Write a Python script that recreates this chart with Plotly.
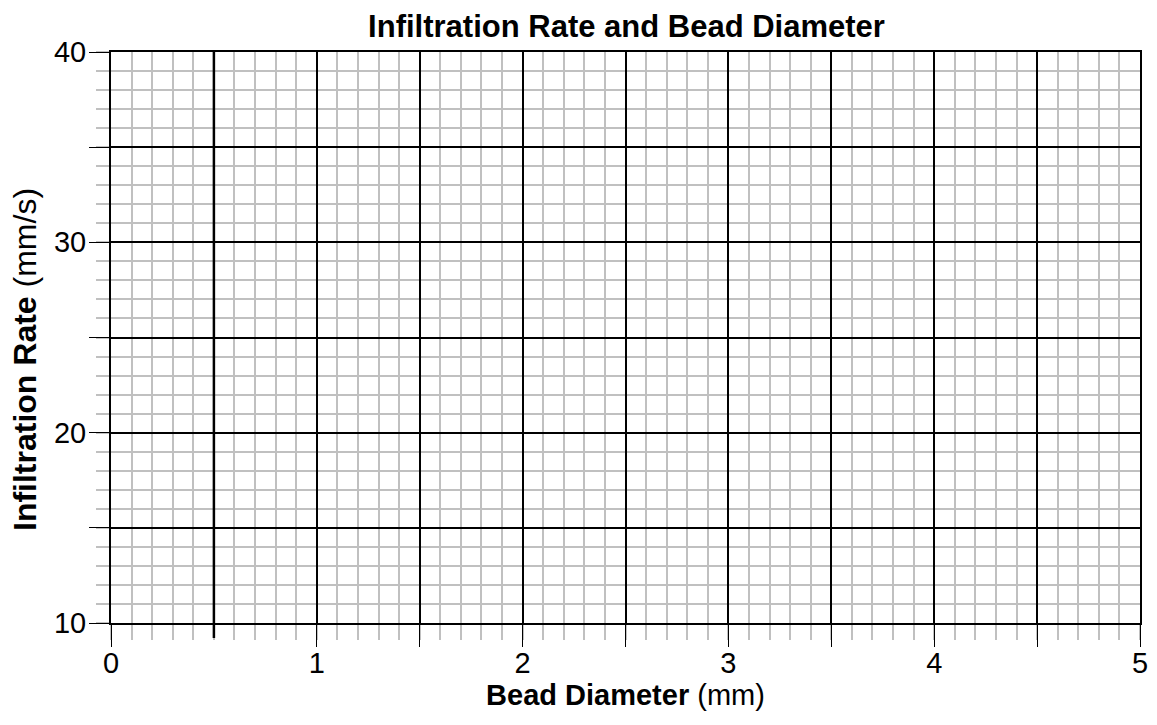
import plotly.graph_objects as go

# Axis ranges and tick definitions (empty graph paper chart)
x_range = [0, 5]
y_range = [10, 40]
x_major_ticks = [0, 1, 1.5, 2, 2.5, 3, 3.5, 4, 4.5, 5]
x_tick_labels = ["0", "1", "", "2", "", "3", "", "4", "", "5"]
x_half_gridline = 0.5
y_major_ticks = [10, 15, 20, 25, 30, 35, 40]
y_tick_labels = ["10", "", "20", "", "30", "", "40"]
x_minor_step = 0.1
y_minor_step = 1

title_text = "<b>Infiltration Rate and Bead Diameter</b>"
x_title = "<b>Bead Diameter</b> (mm)"
y_title = "<b>Infiltration Rate</b> (mm/s)"

FONT = "Liberation Sans, Arial, sans-serif"
GRAY = "#c0c0c0"

W, H = 1141, 709
L, R, T, B = 103, 9, 44, 94
plot_w = W - L - R
plot_h = H - T - B

fig = go.Figure()
fig.add_trace(go.Scatter(x=[], y=[], mode="markers", showlegend=False))

common = dict(
    ticks="outside", tickwidth=1, tickcolor="black",
    showgrid=True, gridcolor="black", gridwidth=2,
    showline=True, linecolor="black", linewidth=2, mirror=True,
    zeroline=False, automargin=False,
    tickfont=dict(family=FONT, size=29, color="black"),
)

fig.update_xaxes(
    range=x_range, tickmode="array", tickvals=x_major_ticks, ticktext=x_tick_labels,
    ticklen=22, ticklabelstandoff=-9,
    minor=dict(dtick=x_minor_step, tick0=0, ticks="outside", ticklen=15, tickwidth=2,
               tickcolor=GRAY, showgrid=True, gridcolor=GRAY, gridwidth=2),
    title=dict(text=x_title, font=dict(family=FONT, size=29, color="black"), standoff=0),
    **common,
)
fig.update_yaxes(
    range=y_range, tickmode="array", tickvals=y_major_ticks, ticktext=y_tick_labels,
    ticklen=20, ticklabelstandoff=-3,
    minor=dict(dtick=y_minor_step, tick0=10, ticks="outside", ticklen=13, tickwidth=2,
               tickcolor=GRAY, showgrid=True, gridcolor=GRAY, gridwidth=2),
    **common,
)

# y-axis title placed as a rotated annotation
fig.add_annotation(text=y_title, xref="paper", yref="paper",
                   x=(17 - L) / plot_w, y=(T + plot_h - 352) / plot_h,
                   xanchor="center", yanchor="middle", textangle=-90, showarrow=False,
                   font=dict(family=FONT, size=32, color="black"))

# the 0.5 gridline extends a short thick stub below the axis
fig.add_shape(type="line", xref="x", yref="paper",
              x0=x_half_gridline, x1=x_half_gridline, y0=-15 / plot_h, y1=1,
              line=dict(color="black", width=2.5), layer="above")

fig.update_layout(
    width=W, height=H,
    margin=dict(l=L, r=R, t=T, b=B, autoexpand=False),
    paper_bgcolor="white", plot_bgcolor="white",
    title=dict(text=title_text, x=618.5 / W, xanchor="center", y=1 - 18 / H, yanchor="middle",
               font=dict(family=FONT, size=31, color="black")),
    font=dict(family=FONT, color="black"),
)

fig.write_html("out.html")
